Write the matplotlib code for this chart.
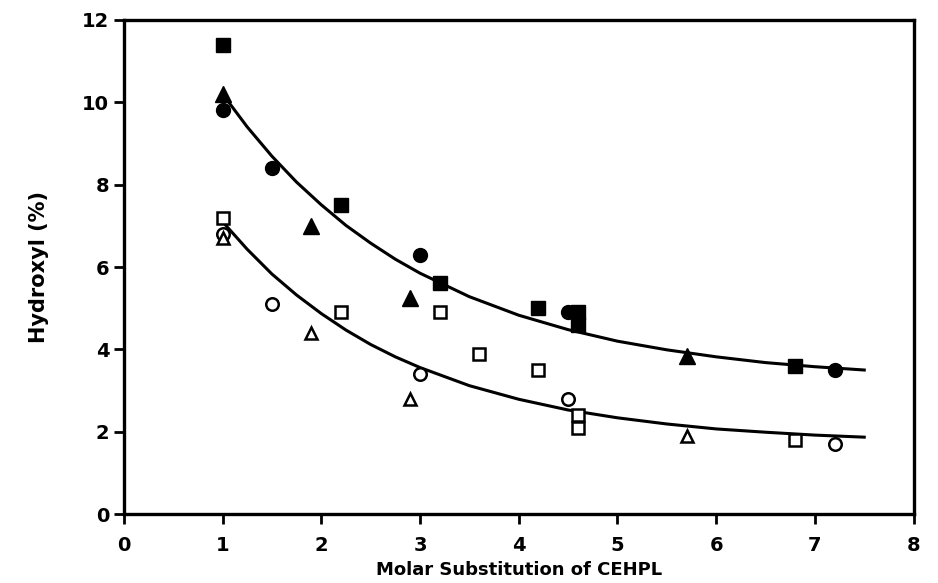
import matplotlib
matplotlib.use("Agg")
import matplotlib.pyplot as plt

# Data points
fsq_x = [1.0, 2.2, 3.2, 4.2, 4.6, 4.6, 6.8]
fsq_y = [11.4, 7.5, 5.6, 5.0, 4.9, 4.6, 3.6]
fci_x = [1.0, 1.5, 3.0, 4.5, 7.2]
fci_y = [9.8, 8.4, 6.3, 4.9, 3.5]
ftr_x = [1.0, 1.9, 2.9, 5.7]
ftr_y = [10.2, 7.0, 5.25, 3.85]

osq_x = [1.0, 2.2, 3.2, 3.6, 4.2, 4.6, 4.6, 6.8]
osq_y = [7.2, 4.9, 4.9, 3.9, 3.5, 2.4, 2.1, 1.8]
oci_x = [1.0, 1.5, 3.0, 4.5, 7.2]
oci_y = [6.8, 5.1, 3.4, 2.8, 1.7]
otr_x = [1.0, 1.9, 2.9, 5.7]
otr_y = [6.7, 4.4, 2.8, 1.9]

# Fitted curves
curve_x = [1.0, 1.25, 1.5, 1.75, 2.0, 2.25, 2.5, 2.75, 3.0, 3.5, 4.0, 4.5,
           5.0, 5.5, 6.0, 6.5, 7.0, 7.5]
upper_y = [10.20, 9.40, 8.69, 8.06, 7.51, 7.01, 6.58, 6.19, 5.85, 5.28, 4.83,
           4.48, 4.20, 3.99, 3.82, 3.68, 3.58, 3.50]
lower_y = [7.10, 6.43, 5.83, 5.32, 4.87, 4.47, 4.12, 3.82, 3.56, 3.12, 2.79,
           2.53, 2.34, 2.19, 2.07, 1.99, 1.92, 1.87]

fig = plt.figure(figsize=(9.38, 5.83), dpi=100)
ax = fig.add_axes([0.132, 0.118, 0.842, 0.848])

ax.plot(curve_x, upper_y, color="black", lw=2.2, zorder=2)
ax.plot(curve_x, lower_y, color="black", lw=2.2, zorder=2)

ax.plot(fsq_x, fsq_y, "s", color="black", ms=10, zorder=3)
ax.plot(fci_x, fci_y, "o", color="black", ms=10, zorder=3)
ax.plot(ftr_x, ftr_y, "^", color="black", ms=12, zorder=3)
ax.plot(osq_x, osq_y, "s", mfc="white", mec="black", mew=1.8, ms=8, zorder=3)
ax.plot(oci_x, oci_y, "o", mfc="white", mec="black", mew=1.8, ms=9, zorder=3)
ax.plot(otr_x, otr_y, "^", mfc="white", mec="black", mew=1.8, ms=8, zorder=3)

ax.set_xlim(0, 8)
ax.set_ylim(0, 12)
ax.set_xticks(range(0, 9))
ax.set_yticks(range(0, 13, 2))
for s in ax.spines.values():
    s.set_linewidth(2.4)
ax.tick_params(direction="out", length=7, width=2, labelsize=14)
ax.tick_params(axis="x", pad=9)
for lab in ax.get_xticklabels() + ax.get_yticklabels():
    lab.set_fontweight("bold")

ax.set_xlabel("Molar Substitution of CEHPL", fontsize=13, fontweight="bold",
              labelpad=4)
ax.set_ylabel("Hydroxyl (%)", fontsize=15, fontweight="semibold", labelpad=24)

fig.savefig("out.png", dpi=100)
